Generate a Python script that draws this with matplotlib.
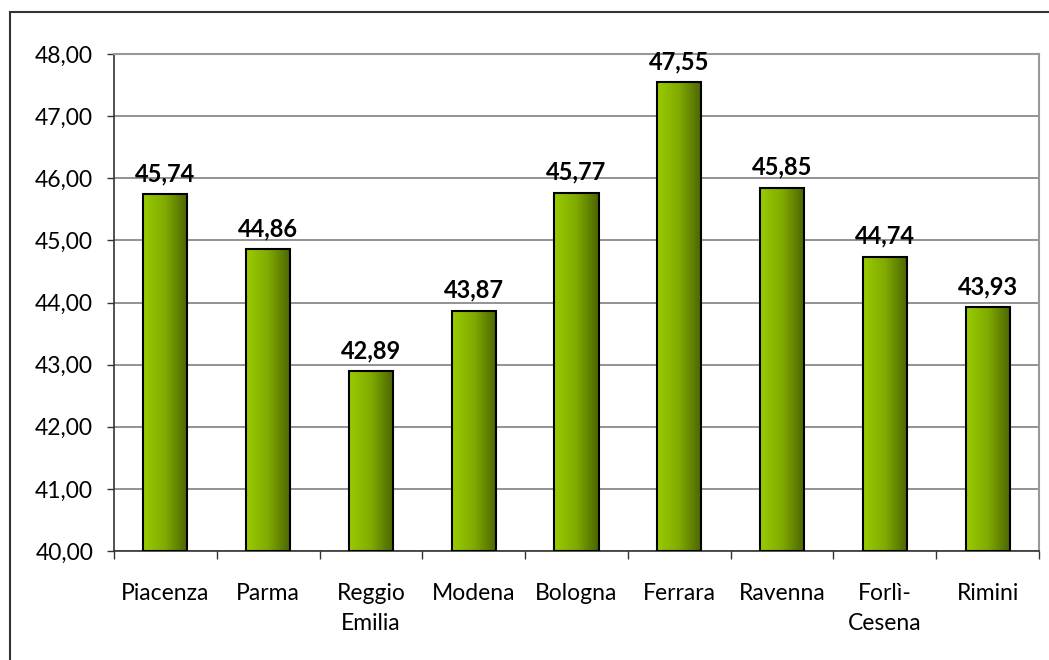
import matplotlib
matplotlib.use("Agg")
import matplotlib.pyplot as plt
import numpy as np
from matplotlib.patches import Rectangle
from matplotlib.colors import LinearSegmentedColormap

categories = ["Piacenza", "Parma", "Reggio\nEmilia", "Modena", "Bologna",
              "Ferrara", "Ravenna", "Forlì-\nCesena", "Rimini"]
values = [45.74, 44.86, 42.89, 43.87, 45.77, 47.55, 45.85, 44.74, 43.93]
yticks = [40, 41, 42, 43, 44, 45, 46, 47, 48]

plt.rcParams['font.family'] = ['Lato', 'DejaVu Sans']

W, H = 1049, 660
fig = plt.figure(figsize=(W / 100, H / 100), dpi=100)
fig.patch.set_facecolor('white')

# outer chart border (only left and top visible)
fig.patches.append(Rectangle((10 / W, -0.1), 1.2, 1.1 - 12 / H,
                             transform=fig.transFigure, fill=False,
                             edgecolor='#333333', linewidth=1.5))

ax = fig.add_axes([114 / W, 1 - 551 / H, (1039 - 114) / W, (551 - 54) / H])
x = np.arange(len(categories))

ax.set_yticks(yticks)
ax.set_yticklabels([f"{v:.2f}".replace('.', ',') for v in yticks], fontsize=16.5)
ax.yaxis.grid(True, color='#808080', linewidth=1.2)
ax.set_axisbelow(True)

ax.set_xticks(np.arange(len(categories) + 1) - 0.5, minor=False)
ax.set_xticklabels([])
ax.set_xticks(x, minor=True)
ax.set_xticklabels(categories, minor=True, fontsize=16.5, linespacing=1.55)
ax.tick_params(axis='x', which='minor', length=0, pad=23)
ax.tick_params(axis='x', which='major', length=6, width=1, color='#333333', direction='out')
ax.tick_params(axis='y', length=5, width=1, color='#333333', direction='out', pad=10)

for s in ['top', 'right']:
    ax.spines[s].set_color('#999999')
    ax.spines[s].set_linewidth(1.5)
for s in ['left', 'bottom']:
    ax.spines[s].set_color('#333333')
    ax.spines[s].set_linewidth(1.2)

cmap = LinearSegmentedColormap.from_list('g', ['#99CC00', '#80AA00', '#4A6300'])
grad = np.linspace(0, 1, 256).reshape(1, -1)

bars = ax.bar(x, [v - 40 for v in values], bottom=40, width=0.43,
              facecolor='none', edgecolor='black', linewidth=1.5, zorder=3)
for b, v in zip(bars, values):
    im = ax.imshow(grad, cmap=cmap, aspect='auto', zorder=2.5,
                   extent=[b.get_x(), b.get_x() + b.get_width(), 40, v])
    im.set_clip_path(b)
    ax.text(b.get_x() + b.get_width() / 2, v + 0.14, f"{v:.2f}".replace('.', ','),
            ha='center', va='bottom', fontsize=17, fontweight='bold', zorder=4)

ax.set_xlim(-0.5, len(categories) - 0.5)
ax.set_ylim(40, 48)

fig.savefig("out.png", dpi=100)
